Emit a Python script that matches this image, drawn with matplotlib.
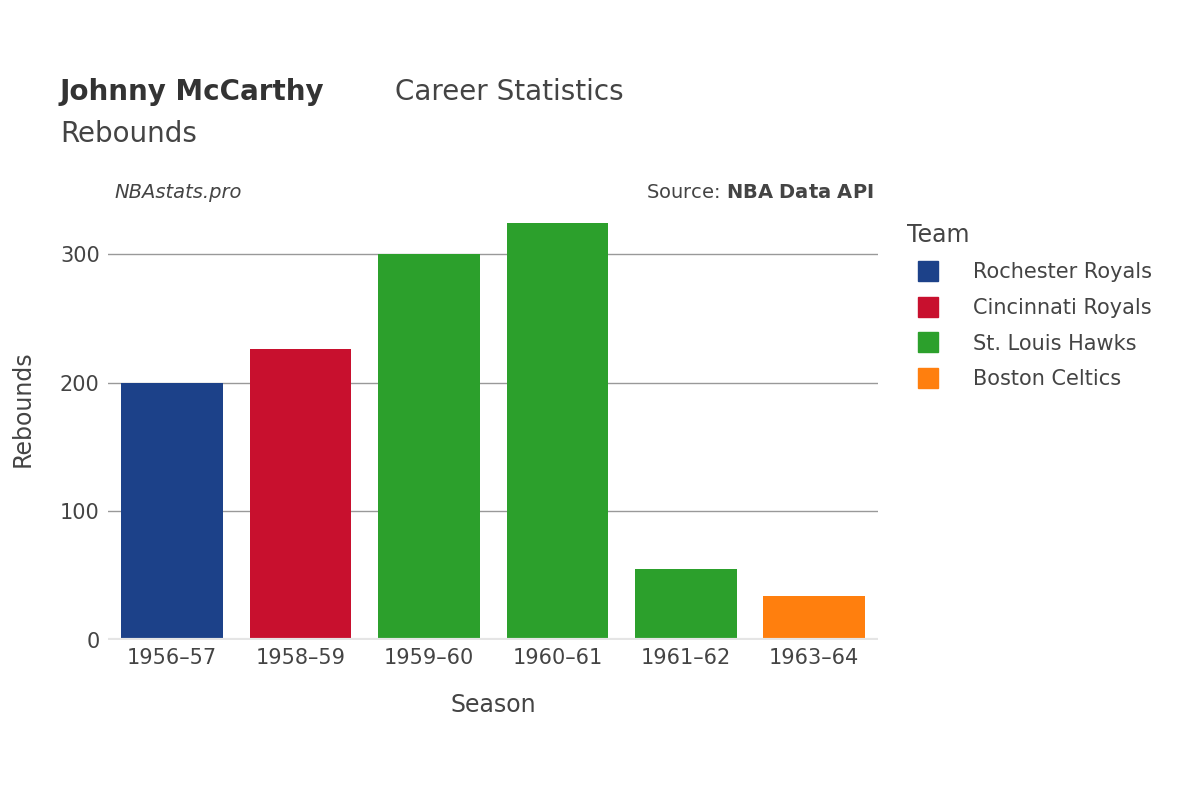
import matplotlib.pyplot as plt
from matplotlib.lines import Line2D

seasons = ['1956–57', '1958–59', '1959–60', '1960–61', '1961–62', '1963–64']
rebounds = [200, 226, 300, 324, 55, 34]
teams = ['Rochester Royals', 'Cincinnati Royals', 'St. Louis Hawks', 'St. Louis Hawks',
         'St. Louis Hawks', 'Boston Celtics']
team_colors = {'Rochester Royals': '#1c4189', 'Cincinnati Royals': '#c8102e',
               'St. Louis Hawks': '#2ca02c', 'Boston Celtics': '#ff7f0e'}

plt.rcParams['font.family'] = 'DejaVu Sans'
fig = plt.figure(figsize=(12, 8), dpi=100)
ax = fig.add_axes([0.09, 0.2, 0.642, 0.579])

x = range(len(seasons))
ax.bar(x, rebounds, width=0.79, color=[team_colors[t] for t in teams], zorder=2)
ax.set_xlim(-0.5, len(seasons) - 0.5)
ax.set_ylim(0, 360)
ax.set_yticks([0, 100, 200, 300])
ax.set_xticks(list(x))
ax.set_xticklabels(seasons)
ax.grid(axis='y', color='#999999', linewidth=1, zorder=0)
for s in ax.spines.values():
    s.set_visible(False)
ax.axhline(0, color='#e5e5e5', linewidth=3, zorder=3)
ax.tick_params(length=0, labelsize=15, colors='#444444', pad=6)
ax.set_xlabel('Season', fontsize=17, color='#444444', labelpad=18)
ax.set_ylabel('Rebounds', fontsize=17, color='#444444', labelpad=18)

fig.text(0.05, 0.875, 'Johnny McCarthy', fontsize=20, fontweight='bold', color='#333333')
fig.text(0.329, 0.875, 'Career Statistics', fontsize=20, color='#444444')
fig.text(0.05, 0.822, 'Rebounds', fontsize=20, color='#444444')
fig.text(0.095, 0.752, 'NBAstats.pro', fontsize=14, style='italic', color='#444444')
fig.text(0.728, 0.752, 'Source: $\\bf{NBA\\ Data\\ API}$', fontsize=14, color='#444444', ha='right')

handles = [Line2D([0], [0], marker='s', linestyle='', markersize=15,
                  markerfacecolor=c, markeredgecolor=c) for c in team_colors.values()]
leg = fig.legend(handles, list(team_colors.keys()), loc='upper left',
                 bbox_to_anchor=(0.74, 0.745), frameon=False, fontsize=15,
                 title='Team', title_fontsize=17, labelspacing=0.75, handletextpad=1.2)
leg._legend_box.align = 'left'
for t in leg.get_texts():
    t.set_color('#444444')
leg.get_title().set_color('#444444')

fig.savefig('out.png')
